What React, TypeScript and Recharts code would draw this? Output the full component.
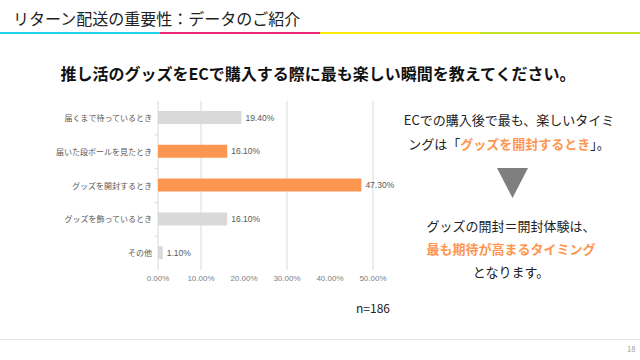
import React from "react";
import { BarChart, Bar, XAxis, YAxis, CartesianGrid, LabelList, Cell } from "recharts";

const categories = [
  "届くまで待っているとき",
  "届いた段ボールを見たとき",
  "グッズを開封するとき",
  "グッズを飾っているとき",
  "その他",
];
const shares = [19.4, 16.1, 47.3, 16.1, 1.1];
const highlighted = ["届いた段ボールを見たとき", "グッズを開封するとき"];
const xTicks = [0, 10, 20, 30, 40, 50];
const sampleSize = 186;

const data = categories.map((name, i) => ({ name, value: shares[i] }));

const FONT = '"Noto Sans CJK JP", "Noto Sans", sans-serif';
const CHART_FONT = '"Liberation Sans", "Noto Sans CJK JP", sans-serif';
const ORANGE = "#fd9650";
const GRAY_BAR = "#d9d9d9";

function CategoryTick(props: any) {
  const { x, y, payload, index } = props;
  return (
    <g>
      <text x={x} y={y} dy={3} textAnchor="end" fontSize={8} fill="#595959" fontFamily={CHART_FONT}>
        {payload.value}
      </text>
      {index < categories.length - 1 && (
        <line x1={x + 3} x2={x + 6} y1={y + 17} y2={y + 17} stroke="#d9d9d9" />
      )}
    </g>
  );
}

export default function App() {
  return (
    <div style={{ position: "absolute", left: 0, top: 0, width: 640, height: 360, background: "#fff", fontFamily: FONT, overflow: "hidden" }}>
      <div style={{ position: "absolute", left: 13, top: 7, fontSize: 16, color: "#222", whiteSpace: "nowrap", lineHeight: "22px" }}>
        リターン配送の重要性：データのご紹介
      </div>
      <svg width={640} height={360} style={{ position: "absolute", left: 0, top: 0 }}>
        <rect x={0} y={32} width={160} height={2} fill="#22d3ee" />
        <rect x={160} y={32} width={160} height={2} fill="#f0267a" />
        <rect x={320} y={32} width={160} height={2} fill="#fde910" />
        <rect x={480} y={32} width={160} height={2} fill="#c4e526" />
        <polygon points="497,168 528,168 512.5,198" fill="#7f7f7f" />
        <line x1={0} x2={640} y1={339.5} y2={339.5} stroke="#e6e6e6" />
      </svg>
      <div style={{ position: "absolute", left: 0, width: 636, top: 62, textAlign: "center", fontSize: 16, fontWeight: 700, color: "#111", lineHeight: "22px" }}>
        推し活のグッズをECで購入する際に最も楽しい瞬間を教えてください。
      </div>

      <div style={{ position: "absolute", left: 0, top: 0 }}>
        <BarChart
          width={400}
          height={300}
          data={data}
          layout="vertical"
          margin={{ top: 101, right: 27, left: 0, bottom: 0 }}
          barCategoryGap={0}
        >
          <CartesianGrid horizontal={false} stroke="#d9d9d9" />
          <XAxis
            type="number"
            domain={[0, 50]}
            ticks={xTicks}
            height={30}
            axisLine={false}
            tickLine={false}
            tickSize={3}
            tickMargin={2}
            tickFormatter={(v: number) => `${v.toFixed(2)}%`}
            tick={{ fontSize: 8, fill: "#7f7f7f", fontFamily: CHART_FONT }}
          />
          <YAxis
            type="category"
            dataKey="name"
            width={158}
            axisLine={false}
            tickLine={false}
            tickSize={4}
            tickMargin={2}
            interval={0}
            tick={<CategoryTick />}
          />
          <Bar dataKey="value" barSize={13} isAnimationActive={false}>
            {data.map((d) => (
              <Cell key={d.name} fill={highlighted.includes(d.name) ? ORANGE : GRAY_BAR} />
            ))}
            <LabelList
              dataKey="value"
              position="right"
              offset={4}
              formatter={(v: any) => `${Number(v).toFixed(2)}%`}
              style={{ fontSize: 8.5, fill: "#595959", fontFamily: CHART_FONT }}
            />
          </Bar>
        </BarChart>
      </div>

      <div style={{ position: "absolute", left: 356, top: 299, fontSize: 12, color: "#222", lineHeight: "18px" }}>
        n={sampleSize}
      </div>

      <div style={{ position: "absolute", left: 378, width: 262, top: 108, textAlign: "center", fontSize: 13, color: "#222", lineHeight: "23.5px" }}>
        ECでの購入後で最も、楽しいタイミ
        <br />
        ングは「<span style={{ color: ORANGE, fontWeight: 700 }}>グッズを開封するとき</span>」。
      </div>
      <div style={{ position: "absolute", left: 380, width: 262, top: 214, textAlign: "center", fontSize: 13, color: "#222", lineHeight: "23px" }}>
        グッズの開封＝開封体験は、
        <br />
        <span style={{ color: ORANGE, fontWeight: 700 }}>最も期待が高まるタイミング</span>
        <br />
        となります。
      </div>

      <div style={{ position: "absolute", left: 627, top: 343, fontSize: 7.5, color: "#999" }}>18</div>
    </div>
  );
}
